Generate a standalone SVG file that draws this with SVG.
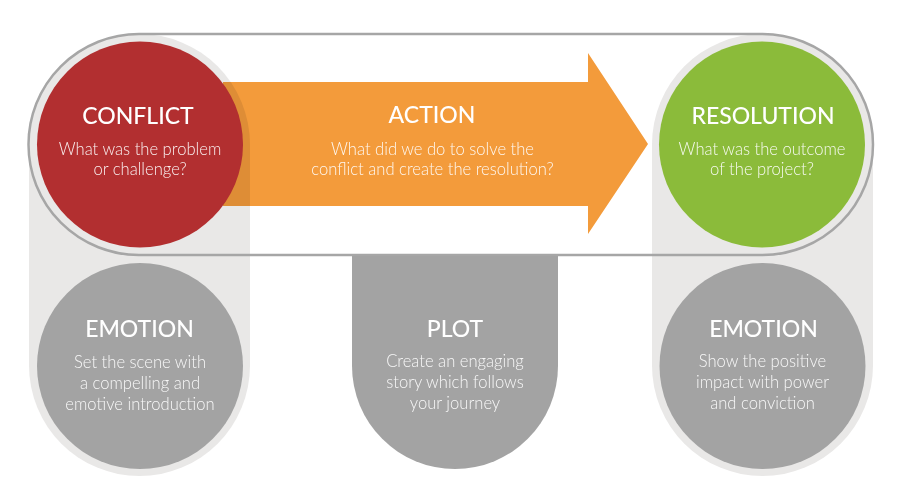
<svg xmlns="http://www.w3.org/2000/svg" width="900" height="502" viewBox="0 0 900 502">
<style>
.pill{fill:#e9e8e7}
.title{font-family:"Lato","Open Sans","Liberation Sans",sans-serif;font-weight:500;font-size:23px;fill:#ffffff;text-anchor:middle}
.body{font-family:"Lato","Open Sans","Liberation Sans",sans-serif;font-weight:300;font-size:16.6px;fill:#ffffff;fill-opacity:0.92;text-anchor:middle}
.gray{fill:#a3a3a3}
.arrow{fill:#f39b3b;mix-blend-mode:multiply}
</style>
<rect width="900" height="502" fill="#ffffff"/>
<g id="backdrop">
<rect class="pill" x="29" y="34" width="221" height="442" rx="110.5" ry="110.5"/>
<rect class="pill" x="652" y="34" width="221" height="442" rx="110.5" ry="110.5"/>
</g>
<g id="connectors">
<rect x="28.5" y="34" width="844.5" height="221" rx="110.5" ry="110.5" fill="none" stroke="#a6a6a6" stroke-width="2.5"/>
</g>
<g id="action">
<path class="arrow" d="M223,82 H588 V53 L648,144 L588,234 V206 H223 Z"/>
<text class="title" x="432" y="123">ACTION</text>
<text class="body" x="432.5" y="155">What did we do to solve the</text>
<text class="body" x="432.5" y="175">conflict and create the resolution?</text>
</g>
<g id="conflict">
<circle cx="140" cy="144.5" r="103" fill="#b22f30"/>
<text class="title" x="138" y="124">CONFLICT</text>
<text class="body" x="140" y="155">What was the problem</text>
<text class="body" x="140" y="175">or challenge?</text>
</g>
<g id="resolution">
<circle cx="762" cy="144.5" r="103" fill="#8bbb3a"/>
<text class="title" x="763" y="124">RESOLUTION</text>
<text class="body" x="762" y="155">What was the outcome</text>
<text class="body" x="762" y="175">of the project?</text>
</g>
<g id="emotion-left">
<circle class="gray" cx="140" cy="366" r="103"/>
<text class="title" x="139.5" y="337">EMOTION</text>
<text class="body" x="140" y="368">Set the scene with</text>
<text class="body" x="140" y="389">a compelling and</text>
<text class="body" x="140" y="410">emotive introduction</text>
</g>
<g id="plot">
<path class="gray" d="M352,256 H558 V366 A103,103 0 0 1 352,366 Z"/>
<text class="title" x="455" y="337">PLOT</text>
<text class="body" x="455" y="367">Create an engaging</text>
<text class="body" x="455" y="388">story which follows</text>
<text class="body" x="455" y="409">your journey</text>
</g>
<g id="emotion-right">
<circle class="gray" cx="762.5" cy="366" r="103"/>
<text class="title" x="763.5" y="337">EMOTION</text>
<text class="body" x="762.5" y="367">Show the positive</text>
<text class="body" x="762.5" y="388">impact with power</text>
<text class="body" x="762.5" y="409">and conviction</text>
</g>
</svg>
